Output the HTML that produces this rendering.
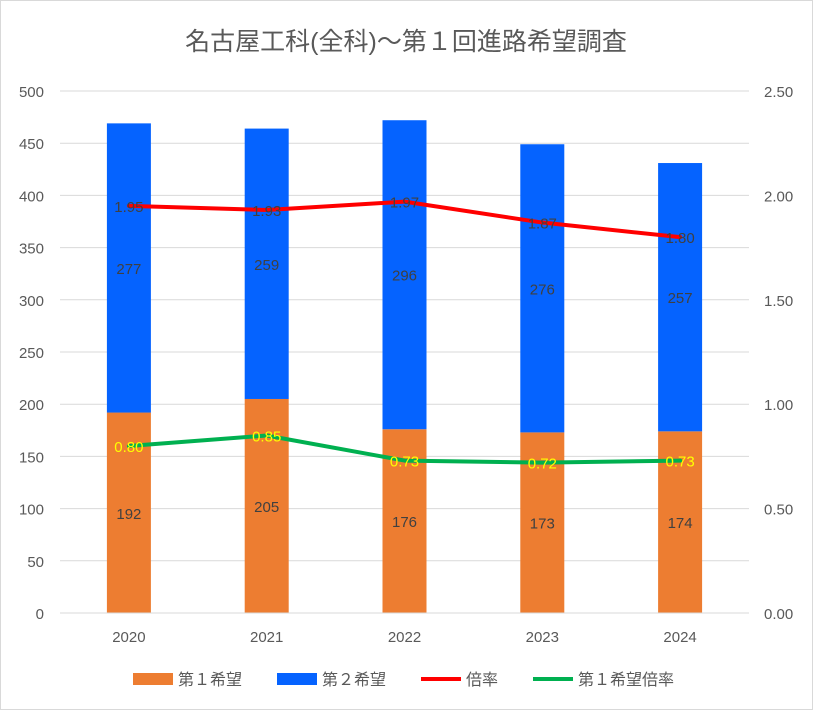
<!DOCTYPE html>
<html><head><meta charset="utf-8"><style>
body{margin:0;background:#fff}
svg text{font-family:"Liberation Sans","Noto Sans CJK JP",sans-serif}
</style></head><body>
<svg id="chart" width="813" height="710" xmlns="http://www.w3.org/2000/svg">
<rect x="0.5" y="0.5" width="812" height="709" fill="#fff" stroke="#d9d9d9"/>
<text x="406" y="50" text-anchor="middle" font-size="25" fill="#595959">名古屋工科(全科)～第１回進路希望調査</text>
<g id="grid"></g><g id="bars"></g><g id="lines"></g><g id="labels"></g><g id="axes"></g>
<g font-size="16" fill="#595959">
<rect x="133" y="673" width="40" height="12" fill="#ED7D31"/>
<text x="178" y="685">第１希望</text>
<rect x="277" y="673" width="40" height="12" fill="#0563FF"/>
<text x="322" y="685">第２希望</text>
<line x1="421" y1="679" x2="461" y2="679" stroke="#FF0000" stroke-width="4"/>
<text x="466" y="685">倍率</text>
<line x1="533" y1="679" x2="573" y2="679" stroke="#00B050" stroke-width="4"/>
<text x="578" y="685">第１希望倍率</text>
</g>
</svg>
<script>
const categories=["2020","2021","2022","2023","2024"];
const first=[192,205,176,173,174];
const second=[277,259,296,276,257];
const ratio=[1.95,1.93,1.97,1.87,1.80];
const firstRatio=[0.80,0.85,0.73,0.72,0.73];
const leftTicks=[0,50,100,150,200,250,300,350,400,450,500];
const rightTicks=["0.00","0.50","1.00","1.50","2.00","2.50"];
const NS="http://www.w3.org/2000/svg";
const L=60,R=749,T=91,B=613;
const yL=v=>B-(v/500)*(B-T);
const yR=v=>B-(v/2.5)*(B-T);
const step=(R-L)/categories.length;
const xC=i=>L+step*(i+0.5);
function mk(p,tag,a,txt){const e=document.createElementNS(NS,tag);for(const k in a)e.setAttribute(k,a[k]);if(txt!==undefined)e.textContent=txt;document.getElementById(p).appendChild(e);return e;}
leftTicks.forEach(v=>{
 const g=mk('grid','line',{x1:L,x2:R,y1:yL(v),y2:yL(v),stroke:'#d9d9d9'});
 
 
 const t=mk('axes','text',{x:44,y:yL(v)+6,'text-anchor':'end','font-size':15,fill:'#595959'},v);
 
 
});
rightTicks.forEach(s=>{
 const t=mk('axes','text',{x:764,y:yR(+s)+6,'font-size':15,fill:'#595959'},s);
 
 
});
const bw=44;
categories.forEach((c,i)=>{
 const x=xC(i)-bw/2;
 const b1=mk('bars','rect',{x:x,y:yL(first[i]),width:bw,height:B-yL(first[i]),fill:'#ED7D31'});
 
 
 const b2=mk('bars','rect',{x:x,y:yL(first[i]+second[i]),width:bw,height:yL(first[i])-yL(first[i]+second[i]),fill:'#0563FF'});
 
 
 const t1=mk('labels','text',{x:xC(i),y:yL(first[i]/2)+6,'text-anchor':'middle','font-size':15,fill:'#404040'},first[i]);
 
 
 const t2=mk('labels','text',{x:xC(i),y:yL(first[i]+second[i]/2)+6,'text-anchor':'middle','font-size':15,fill:'#404040'},second[i]);
 
 
 const tc=mk('axes','text',{x:xC(i),y:642,'text-anchor':'middle','font-size':15,fill:'#595959'},c);
 
 
});
const ax=mk('axes','line',{x1:L,x2:R,y1:B,y2:B,stroke:'#d9d9d9'});


function line(vals,color,name,lblColor){
 const p=mk('lines','polyline',{points:vals.map((v,i)=>xC(i)+','+yR(v)).join(' '),fill:'none',stroke:color,'stroke-width':4,'stroke-linejoin':'round','stroke-linecap':'round'});
 
 
 vals.forEach((v,i)=>{
  const t=mk('labels','text',{x:xC(i),y:yR(v)+6,'text-anchor':'middle','font-size':15,fill:lblColor},v.toFixed(2));
  
  
 });
}
line(ratio,'#FF0000','ratio-line','#404040');
line(firstRatio,'#00B050','first-ratio-line','#FFFF00');
</script>
</body></html>
